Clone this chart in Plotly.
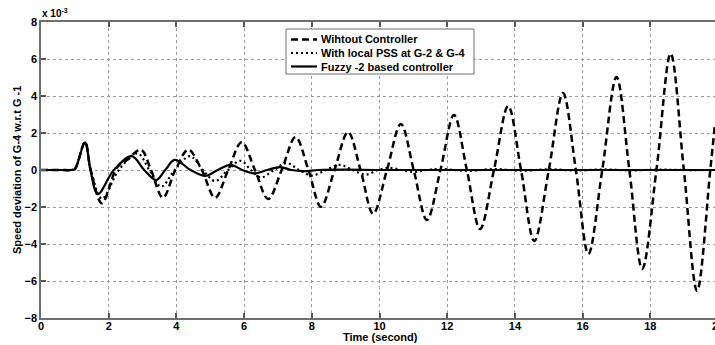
import plotly.graph_objects as go

# Time axis samples (s) and speed deviation (x1e-3) at turning points / crossings
t_without = [0, 0.6, 0.9, 1.0, 1.3, 1.47, 1.8, 2.25, 2.55, 2.95, 3.25, 3.6, 3.97, 4.35, 4.75, 5.14,
             5.53, 5.93, 6.32, 6.71, 7.11, 7.52, 7.9, 8.27, 8.67, 9.07, 9.44, 9.81, 10.22,
             10.63, 11.01, 11.4, 11.8, 12.2, 12.58, 12.97, 13.38, 13.8, 14.18, 14.57, 15.0,
             15.42, 15.8, 16.17, 16.58, 17.0, 17.38, 17.76, 18.18, 18.6, 18.99, 19.38,
             19.77, 19.91]
v_without = [0, 0, 0, 0.05, 1.5, 0, -1.8, 0.15, 0.55, 1.1, 0, -1.5, 0, 1.1, 0, -1.5,
             0, 1.5, 0, -1.57, 0, 1.78, 0, -1.99, 0, 2.05, 0, -2.37, 0,
             2.49, 0, -2.7, 0, 2.97, 0, -3.19, 0, 3.46, 0, -3.84, 0,
             4.16, 0, -4.54, 0, 5.03, 0, -5.35, 0, 6.29, 0, -6.54,
             0, 2.5]

t_pss = [0, 0.6, 0.9, 1.0, 1.3, 1.47, 1.8, 2.3, 2.85, 3.2, 3.55, 3.95, 4.4, 4.78, 5.15, 5.52, 5.9,
         6.2, 6.5, 6.88, 7.26, 7.63, 8.0, 8.42, 8.83, 9.2, 9.6, 9.95, 10.3, 10.65, 11.0,
         11.4, 11.8, 12.6, 13.4, 14.2, 15.0, 15.8, 16.6, 17.4, 18.2, 19.0, 19.91]
v_pss = [0, 0, 0, 0.05, 1.5, 0, -1.55, 0.0, 0.9, 0, -0.9, 0, 0.75, 0, -0.6, 0, 0.5,
         0, -0.4, 0, 0.37, 0, -0.3, 0, 0.28, 0, -0.25, 0, 0.12, 0, -0.1,
         0, 0.06, -0.05, 0.05, -0.04, 0.04, -0.03, 0.03, -0.02, 0.02, 0, 0]

t_fuzzy = [0, 0.6, 0.9, 1.0, 1.3, 1.46, 1.68, 2.15, 2.68, 3.05, 3.4, 3.67, 3.95, 4.42, 4.85, 5.22,
           5.6, 5.95, 6.3, 6.68, 7.06, 7.4, 7.75, 8.2, 9.0, 10, 12, 14, 16, 18, 19.91]
v_fuzzy = [0, 0, 0, 0.05, 1.5, 0, -1.3, 0, 0.75, 0, -0.55, 0, 0.55, 0, -0.32, 0,
           0.28, 0, -0.18, 0, 0.16, 0, -0.06, 0, 0.02, 0, 0, 0, 0, 0, 0]

series_names = ["Wihtout Controller", "With local PSS at G-2 & G-4", "Fuzzy -2 based controller"]
x_ticks = [0, 2, 4, 6, 8, 10, 12, 14, 16, 18]
y_ticks = [-8, -6, -4, -2, 0, 2, 4, 6, 8]

W, H = 715, 345
ML, MR, MT, MB = 41, 0, 22, 27
PW, PH = W - ML - MR, H - MT - MB
X_MAX = 19.91

FONT = "Liberation Sans, Arial, sans-serif"
dash_styles = ["7px,4px", "2px,3px", "solid"]
widths = [2.5, 2.2, 2.2]


def px(xp):
    return (xp - ML) / PW


def py(yp):
    return (H - MB - yp) / PH


fig = go.Figure()
for name, t, v, d, w in zip(series_names, [t_without, t_pss, t_fuzzy],
                            [v_without, v_pss, v_fuzzy], dash_styles, widths):
    fig.add_trace(go.Scatter(
        x=t, y=v, mode="lines", name=name, showlegend=False,
        line=dict(color="black", width=w, dash=d, shape="spline", smoothing=1.0),
    ))

axis_common = dict(
    showgrid=True, gridcolor="#9a9a9a", griddash="dot", gridwidth=1,
    zeroline=False, showline=True, linecolor="#6e6e6e", linewidth=1.5,
    ticks="inside", ticklen=5, tickwidth=1.5, tickcolor="#555555",
    tickfont=dict(family=FONT, size=11, color="black", weight="bold"),
)

fig.update_layout(
    width=W, height=H,
    margin=dict(l=ML, r=MR, t=MT, b=MB, autoexpand=False),
    paper_bgcolor="white", plot_bgcolor="white",
    xaxis=dict(range=[0, X_MAX], tickvals=x_ticks, mirror="ticks",
               ticklabelstandoff=-3, **axis_common),
    yaxis=dict(range=[-8, 8], tickvals=y_ticks, mirror=False, **axis_common),
)

title_font = dict(family=FONT, size=11, color="black", weight="bold")
# Axis titles
fig.add_annotation(xref="paper", yref="paper", x=px(380), y=py(337), xanchor="center",
                   yanchor="middle", showarrow=False, text="Time (second)", font=title_font)
fig.add_annotation(xref="paper", yref="paper", x=px(17), y=py(170), xanchor="center",
                   yanchor="middle", showarrow=False, textangle=-90,
                   text="Speed deviation of G-4 w.r.t G -1", font=title_font)

# Scale multiplier above the y axis
fig.add_annotation(xref="paper", yref="paper", x=px(40), y=py(21), xanchor="left",
                   yanchor="bottom", showarrow=False, text="x 10<sup>-3</sup>",
                   font=dict(family=FONT, size=10, color="black", weight="bold"))
# Partially visible label of the last x tick
fig.add_annotation(xref="paper", yref="paper", x=px(718), y=py(318), xanchor="center",
                   yanchor="top", showarrow=False, text="20",
                   font=dict(family=FONT, size=11, color="black", weight="bold"))

# Legend box
box = dict(x0=286, x1=474, y0=29, y1=74)
fig.add_shape(type="rect", xref="paper", yref="paper",
              x0=px(box["x0"]), x1=px(box["x1"]), y0=py(box["y1"]), y1=py(box["y0"]),
              line=dict(color="#6e6e6e", width=1), fillcolor="white", layer="above")
rows = [39.5, 53, 66.5]
for name, d, w, ry in zip(series_names, dash_styles, widths, rows):
    fig.add_shape(type="line", xref="paper", yref="paper",
                  x0=px(291), x1=px(317), y0=py(ry), y1=py(ry),
                  line=dict(color="black", width=w, dash=d), layer="above")
    fig.add_annotation(xref="paper", yref="paper", x=px(319), y=py(ry), xanchor="left",
                       yanchor="middle", showarrow=False, text=name,
                       font=dict(family=FONT, size=11, color="black", weight="bold"))

fig.write_html("out.html")
